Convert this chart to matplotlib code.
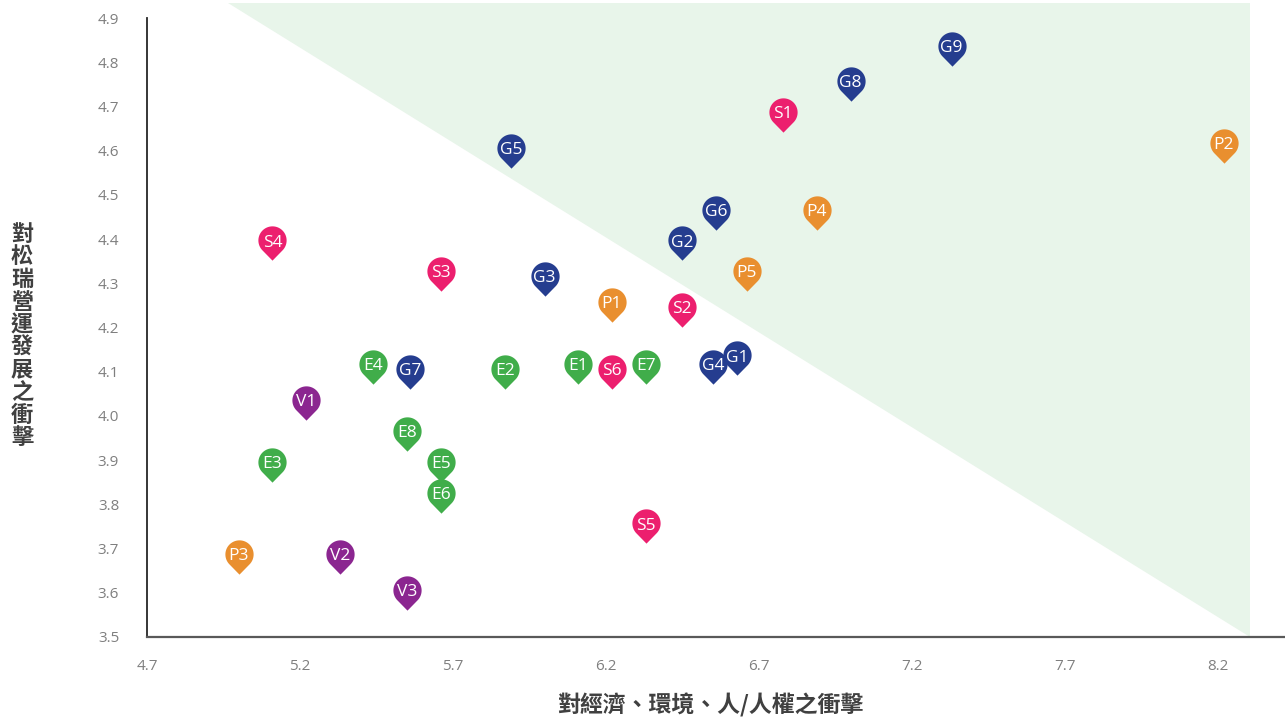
import numpy as np
import matplotlib
matplotlib.use('Agg')
import matplotlib.pyplot as plt
from matplotlib.path import Path
from matplotlib.patches import Polygon

plt.rcParams['font.family'] = ['Noto Sans CJK TC', 'DejaVu Sans']

# data
labels = ['G9', 'G8', 'S1', 'P2', 'G5', 'G6', 'P4', 'S4', 'G2', 'S3', 'G3', 'P5',
          'P1', 'S2', 'G4', 'G1', 'E4', 'G7', 'E2', 'E1', 'S6', 'E7', 'V1', 'E8',
          'E3', 'E6', 'E5', 'S5', 'P3', 'V2', 'V3']
x_vals = [7.33, 7.00, 6.78, 8.22, 5.89, 6.56, 6.89, 5.11, 6.45, 5.66, 6.00, 6.66,
          6.22, 6.45, 6.55, 6.63, 5.44, 5.56, 5.87, 6.11, 6.22, 6.33, 5.22, 5.55,
          5.11, 5.66, 5.66, 6.33, 5.00, 5.33, 5.55]
y_vals = [4.83, 4.75, 4.68, 4.61, 4.60, 4.46, 4.46, 4.39, 4.39, 4.32, 4.31, 4.32,
          4.25, 4.24, 4.11, 4.13, 4.11, 4.10, 4.10, 4.11, 4.10, 4.11, 4.03, 3.96,
          3.89, 3.82, 3.89, 3.75, 3.68, 3.68, 3.60]
group_colors = {'G': '#253d8f', 'S': '#ec1f6e', 'P': '#e98f2f',
                'E': '#40ad4a', 'V': '#8b2690'}

xticks = [4.7, 5.2, 5.7, 6.2, 6.7, 7.2, 7.7, 8.2]
yticks = [3.5, 3.6, 3.7, 3.8, 3.9, 4.0, 4.1, 4.2, 4.3, 4.4, 4.5, 4.6, 4.7, 4.8, 4.9]

# shaded "high impact" zone
zone_x = [4.965, 8.306, 8.306]
zone_y = [4.935, 4.935, 3.5]

xlabel = '對經濟、環境、人/人權之衝擊'
ylabel = '對松瑞營運發展之衝擊'


def pin_path():
    """Map-pin shape: circle radius 1 with a tip below, origin at mid-height."""
    tip = 1.43
    a = np.arccos(1.0 / tip)              # tangent angle from the tip
    start = -np.pi / 2 + a
    end = 3 * np.pi / 2 - a
    t = np.linspace(start, end, 60)
    verts = [(0, -tip)] + [(np.cos(v), np.sin(v)) for v in t] + [(0, -tip)]
    verts = np.array(verts)
    verts[:, 1] += (tip - 1) / 2
    codes = [Path.MOVETO] + [Path.LINETO] * (len(verts) - 2) + [Path.CLOSEPOLY]
    return Path(verts, codes)


pin = pin_path()

fig = plt.figure(figsize=(12.85, 7.18), dpi=100)
ax = fig.add_axes([147 / 1285, 81 / 718, 1138 / 1285, 619 / 718])

ax.set_xlim(4.7, 4.7 + 1138 / 305.9)
ax.set_ylim(3.5, 4.9)

tri = Polygon(list(zip(zone_x, zone_y)), closed=True, facecolor='#e8f5ea',
              edgecolor='none', zorder=0, clip_on=False)
ax.add_patch(tri)

for i, (lab, xv, yv) in enumerate(zip(labels, x_vals, y_vals)):
    c = group_colors[lab[0]]
    ax.scatter([xv], [yv], marker=pin, s=610, color=c, linewidths=0,
               zorder=2 + 2 * i, clip_on=False)
    ax.annotate(lab, (xv, yv), xytext=(0, -2.2), textcoords='offset points',
                ha='center', va='baseline', color='white', fontsize=12.5,
                family=['Open Sans', 'DejaVu Sans'], zorder=3 + 2 * i)

for s in ['top', 'right']:
    ax.spines[s].set_visible(False)
ax.spines['left'].set_color('#262626')
ax.spines['bottom'].set_color('#595959')
ax.spines['left'].set_linewidth(1.3)
ax.spines['bottom'].set_linewidth(1.6)

ax.set_xticks(xticks)
ax.set_xticklabels([f'{v:.1f}' for v in xticks])
ax.set_yticks(yticks)
ax.set_yticklabels([f'{v:.1f}' for v in yticks])
ax.tick_params(length=0, colors='#7f7f7f', labelsize=11)
ax.tick_params(axis='y', pad=20)
ax.tick_params(axis='x', pad=16)
for t in ax.get_xticklabels() + ax.get_yticklabels():
    t.set_family(['Open Sans', 'DejaVu Sans'])

fig.text(710 / 1285, 1 - 705 / 718, xlabel, ha='center', va='center',
         fontsize=16.5, fontweight='bold', color='#404040')
fig.text(22 / 1285, 1 - 336 / 718, '\n'.join(ylabel), ha='center', va='center',
         fontsize=16, fontweight='bold', color='#404040', linespacing=0.98)

fig.savefig('out.png', dpi=100)
